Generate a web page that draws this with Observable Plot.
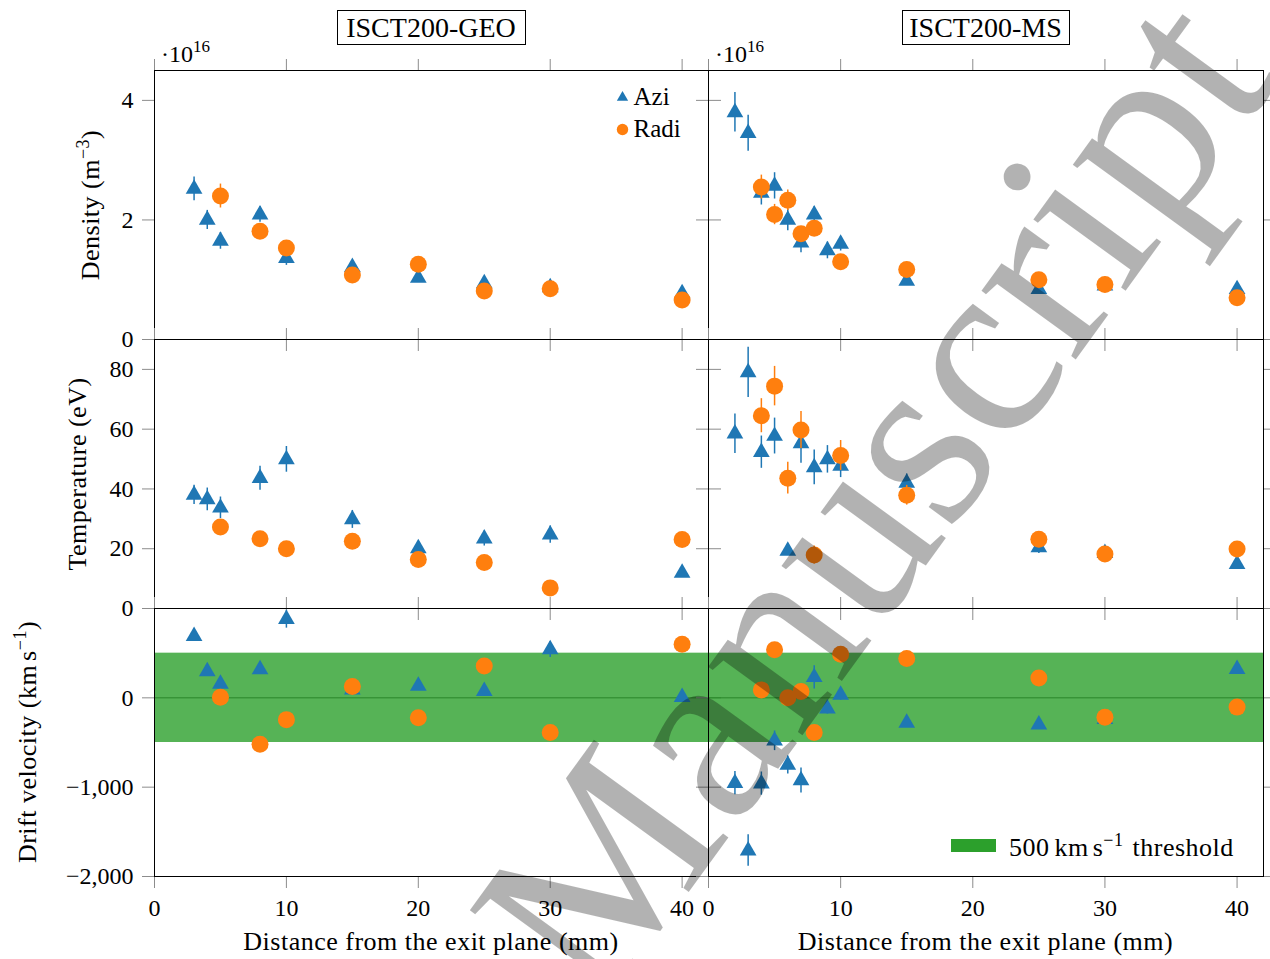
<!DOCTYPE html>
<html><head><meta charset="utf-8">
<script src="https://cdn.jsdelivr.net/npm/d3@7"></script>
<script src="https://cdn.jsdelivr.net/npm/@observablehq/plot@0.6"></script>
<style>
body{margin:0;background:#fff;}
#wrap{position:relative;width:1270px;height:959px;overflow:hidden;background:#fff;}
#wrap svg{position:absolute;}
</style></head><body><div id="wrap"></div>
<script>
// ---------- data ----------
const xTicks = [0, 10, 20, 30, 40];
const densityTicks = [0, 2e16, 4e16];
const temperatureTicks = [0, 20, 40, 60, 80];
const driftTicks = [-2000, -1000, 0];
const threshold = [500];

// ISCT200-GEO
const geoAziX = [3, 4, 5, 8, 10, 15, 20, 25, 30, 40];
const geoRadiX = [5, 8, 10, 15, 20, 25, 30, 40];
const geoAziDensity = [2.52e16, 2.0e16, 1.65e16, 2.09e16, 1.36e16, 1.21e16, 1.03e16, 0.94e16, 0.87e16, 0.77e16];
const geoAziDensityErr = [0.2e16, 0.16e16, 0.14e16, 0.13e16, 0.12e16, 0.08e16, 0.06e16, 0.05e16, 0.05e16, 0.05e16];
const geoRadiDensity = [2.40e16, 1.81e16, 1.53e16, 1.08e16, 1.26e16, 0.81e16, 0.85e16, 0.66e16];
const geoRadiDensityErr = [0.2e16, 0.1e16, 0.08e16, 0.06e16, 0.06e16, 0.05e16, 0.05e16, 0.05e16];
const geoAziTemp = [38, 36.5, 33.7, 43.6, 49.9, 29.8, 20.1, 23.4, 24.7, 11.9];
const geoAziTempErr = [3.2, 3.8, 3.6, 4.0, 4.3, 3, 2, 2.5, 2.9, 1.5];
const geoRadiTemp = [27.3, 23.3, 20.0, 22.5, 16.4, 15.4, 6.9, 23.1];
const geoRadiTempErr = [2, 2, 2, 2, 2, 2, 2, 2];
const geoAziDrift = [690, 296, 155, 318, 880, 90, 133, 74, 541, 7];
const geoAziDriftErr = [30, 40, 40, 40, 100, 40, 40, 40, 90, 40];
const geoRadiDrift = [7, -519, -244, 126, -222, 356, -389, 600];
const geoRadiDriftErr = [40, 40, 40, 40, 40, 40, 40, 40];

// ISCT200-MS
const msAziX = [2, 3, 4, 5, 6, 7, 8, 9, 10, 15, 25, 30, 40];
const msRadiX = [4, 5, 6, 7, 8, 10, 15, 25, 30, 40];
const msAziDensity = [3.80e16, 3.45e16, 2.45e16, 2.57e16, 2.0e16, 1.62e16, 2.09e16, 1.49e16, 1.60e16, 0.98e16, 0.84e16, 0.90e16, 0.84e16];
const msAziDensityErr = [0.33e16, 0.3e16, 0.2e16, 0.22e16, 0.18e16, 0.17e16, 0.13e16, 0.14e16, 0.12e16, 0.06e16, 0.05e16, 0.05e16, 0.05e16];
const msRadiDensity = [2.55e16, 2.09e16, 2.33e16, 1.77e16, 1.86e16, 1.30e16, 1.17e16, 1.00e16, 0.92e16, 0.70e16];
const msRadiDensityErr = [0.2e16, 0.17e16, 0.17e16, 0.1e16, 0.1e16, 0.08e16, 0.06e16, 0.05e16, 0.05e16, 0.05e16];
const msAziTemp = [58.5, 79.0, 52.3, 57.7, 19.3, 55.2, 47.2, 49.9, 47.7, 42, 20.4, 18.5, 14.8];
const msAziTempErr = [6.6, 8.4, 5.4, 6, 1.5, 6.6, 5.8, 4.6, 3.9, 3, 2, 2, 1.5];
const msRadiTemp = [64.5, 74.4, 43.6, 59.7, 17.9, 51.2, 37.9, 23.2, 18.2, 19.9];
const msRadiTempErr = [5.7, 6.6, 5.3, 6.2, 3, 5, 3.3, 2, 2, 2];
const msAziDrift = [-955, -1710, -960, -481, -752, -925, 230, -122, 33, -281, -300, -240, 322];
const msAziDriftErr = [130, 176, 130, 110, 100, 140, 130, 60, 60, 50, 50, 50, 50];
const msRadiDrift = [89, 537, 0, 70, -389, 489, 441, 222, -218, -104];
const msRadiDriftErr = [50, 50, 50, 50, 50, 50, 50, 50, 50, 50];

// ---------- styling ----------
const blue = "#1f77b4", orange = "#ff7f0e", green = "#2ca02c";
const FONT = "Liberation Serif";
const colX = [[154, 708], [708, 1263]];
const rowY = [[70, 339], [339, 608], [608, 876]];

const rows = (xs, ys, es) => xs.map((x, i) => ({x, y: ys[i], lo: ys[i] - es[i], hi: ys[i] + es[i]}));
const wrap = document.getElementById("wrap");
const blank = () => "";

function panel(col, row, o) {
  const [x0, x1] = colX[col], [y0, y1] = rowY[row];
  const ml = col === 0 ? 100 : 16, mr = 16, mt = 16, mb = row === 2 ? 50 : 16;
  const marks = [];
  if (o.band) {
    marks.push(Plot.ruleY([0], {stroke: "#000", strokeWidth: 0.9}));
    marks.push(Plot.rect(o.band.map(t => ({lo: -t, hi: t})), {y1: "lo", y2: "hi", fill: green, fillOpacity: 0.8}));
  }
  marks.push(Plot.ruleX(o.azi, {x: "x", y1: "lo", y2: "hi", stroke: blue, strokeWidth: 1.5}));
  marks.push(Plot.dot(o.azi, {x: "x", y: "y", symbol: "triangle", r: 6.2, fill: blue}));
  marks.push(Plot.ruleX(o.radi, {x: "x", y1: "lo", y2: "hi", stroke: orange, strokeWidth: 1.5}));
  marks.push(Plot.dot(o.radi, {x: "x", y: "y", symbol: "circle", r: 8.5, fill: orange}));
  if (o.legend) {
    marks.push(Plot.dot([0], {frameAnchor: "top-right", dx: -86, dy: 27, symbol: "triangle", r: 4.2, fill: blue}));
    marks.push(Plot.dot([0], {frameAnchor: "top-right", dx: -86, dy: 59, symbol: "circle", r: 5.7, fill: orange}));
    marks.push(Plot.text(["Azi"], {frameAnchor: "top-right", dx: -75, dy: 26, text: d => d, textAnchor: "start", lineAnchor: "middle", fontSize: 25}));
    marks.push(Plot.text(["Radi"], {frameAnchor: "top-right", dx: -75, dy: 58, text: d => d, textAnchor: "start", lineAnchor: "middle", fontSize: 25}));
  }
  const tk = {stroke: "#8c8c8c", strokeWidth: 1, tickSize: 12, label: null};
  marks.push(Plot.axisX({...tk, anchor: "bottom", ticks: xTicks, tickPadding: 10, tickFormat: row === 2 ? d => String(d) : blank, fill: "black"}));
  marks.push(Plot.axisX({...tk, anchor: "top", ticks: xTicks, tickFormat: blank}));
  marks.push(Plot.axisY({...tk, anchor: "left", ticks: o.yTicks, tickPadding: 9, tickFormat: col === 0 ? o.fmt : blank, fill: "black"}));
  marks.push(Plot.axisY({...tk, anchor: "right", ticks: o.yTicks, tickFormat: blank}));
  marks.push(Plot.frame({stroke: "black", strokeWidth: 1}));
  const svg = Plot.plot({
    width: (x1 - x0) + ml + mr,
    height: (y1 - y0) + mt + mb,
    marginLeft: ml, marginRight: mr, marginTop: mt, marginBottom: mb,
    style: {background: "none", fontFamily: FONT, fontSize: "24px", color: "black"},
    x: {domain: [0, 42]},
    y: {domain: o.yDomain},
    marks
  });
  svg.style.left = (x0 - ml) + "px";
  svg.style.top = (y0 - mt) + "px";
  wrap.appendChild(svg);
}

const fmtDensity = d => String(d / 1e16);
const fmtPlain = d => String(d);
const fmtDrift = d3.format(",");

panel(0, 0, {azi: rows(geoAziX, geoAziDensity, geoAziDensityErr), radi: rows(geoRadiX, geoRadiDensity, geoRadiDensityErr), yDomain: [0, 4.5e16], yTicks: densityTicks, fmt: fmtDensity, legend: true});
panel(1, 0, {azi: rows(msAziX, msAziDensity, msAziDensityErr), radi: rows(msRadiX, msRadiDensity, msRadiDensityErr), yDomain: [0, 4.5e16], yTicks: densityTicks, fmt: fmtDensity});
panel(0, 1, {azi: rows(geoAziX, geoAziTemp, geoAziTempErr), radi: rows(geoRadiX, geoRadiTemp, geoRadiTempErr), yDomain: [0, 90], yTicks: temperatureTicks, fmt: fmtPlain});
panel(1, 1, {azi: rows(msAziX, msAziTemp, msAziTempErr), radi: rows(msRadiX, msRadiTemp, msRadiTempErr), yDomain: [0, 90], yTicks: temperatureTicks, fmt: fmtPlain});
panel(0, 2, {azi: rows(geoAziX, geoAziDrift, geoAziDriftErr), radi: rows(geoRadiX, geoRadiDrift, geoRadiDriftErr), yDomain: [-2000, 1000], yTicks: driftTicks, fmt: fmtDrift, band: threshold});
panel(1, 2, {azi: rows(msAziX, msAziDrift, msAziDriftErr), radi: rows(msRadiX, msRadiDrift, msRadiDriftErr), yDomain: [-2000, 1000], yTicks: driftTicks, fmt: fmtDrift, band: threshold});

// ---------- annotations (titles, axis labels, legend) ----------
const ns = "http://www.w3.org/2000/svg";
const ov = document.createElementNS(ns, "svg");
ov.setAttribute("width", 1270); ov.setAttribute("height", 959);
ov.style.left = "0px"; ov.style.top = "0px";
ov.setAttribute("font-family", FONT);
ov.innerHTML = `
  <rect x="337.5" y="10.5" width="188" height="34" fill="white" stroke="black" stroke-width="1"/>
  <text x="431" y="37" text-anchor="middle" font-size="28">ISCT200-GEO</text>
  <rect x="902.5" y="10.5" width="167" height="34" fill="white" stroke="black" stroke-width="1"/>
  <text x="985.5" y="37" text-anchor="middle" font-size="28">ISCT200-MS</text>
  <text x="161" y="62" font-size="24">·10<tspan dy="-10" font-size="17">16</tspan></text>
  <text x="715" y="62" font-size="24">·10<tspan dy="-10" font-size="17">16</tspan></text>
  <g font-size="26" letter-spacing="0.5">
  <text transform="translate(99,205) rotate(-90)" text-anchor="middle">Density (m<tspan dy="-10" font-size="18">−3</tspan><tspan dy="10">)</tspan></text>
  <text transform="translate(86,474) rotate(-90)" text-anchor="middle">Temperature (eV)</text>
  <text transform="translate(36,742) rotate(-90)" text-anchor="middle">Drift velocity (km<tspan dx="4">s</tspan><tspan dy="-10" font-size="18">−1</tspan><tspan dy="10">)</tspan></text>
  <text x="431" y="950" text-anchor="middle">Distance from the exit plane (mm)</text>
  <text x="985.5" y="950" text-anchor="middle">Distance from the exit plane (mm)</text>
  <text x="1009" y="856">500<tspan dx="5">km</tspan><tspan dx="4">s</tspan><tspan dy="-10" font-size="18">−1</tspan><tspan dy="10" dx="9">threshold</tspan></text>
  </g>
  <rect x="951" y="839" width="45" height="13" fill="${green}"/>
`;
wrap.appendChild(ov);

// ---------- watermark ----------
const wm = document.createElementNS(ns, "svg");
wm.setAttribute("width", 1270); wm.setAttribute("height", 959);
wm.style.left = "0px"; wm.style.top = "0px";
wm.innerHTML = `<text x="940" y="546" transform="rotate(-54 940 546)" text-anchor="middle" font-family="${FONT}" font-size="254" fill="#000" fill-opacity="0.3">Manuscript</text>`;
wrap.appendChild(wm);
</script></body></html>
